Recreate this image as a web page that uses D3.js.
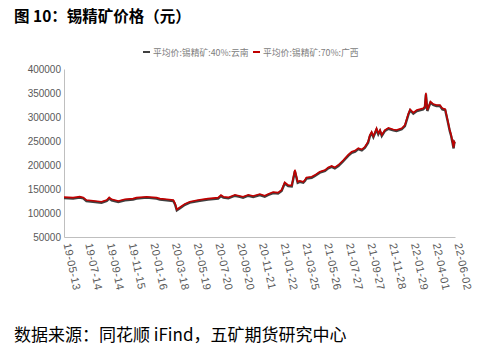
<!DOCTYPE html>
<head>
  <meta charset="utf-8">
  <title>锡精矿价格</title>
  <style>
    body { margin: 0; background: #fff; }
    svg { display: block; }
  </style>
</head>
<body>
  <script src="https://cdn.jsdelivr.net/npm/d3@7/dist/d3.min.js"></script>
  <script>

    // dates of the sampled points
    var dates = ["2019-05-13","2019-06-08","2019-06-27","2019-07-07","2019-07-16","2019-08-04","2019-08-28","2019-09-12","2019-09-19","2019-09-26",
      "2019-10-15","2019-11-03","2019-11-26","2019-12-06","2020-01-04","2020-02-01","2020-02-11","2020-03-01","2020-03-20","2020-03-25",
      "2020-03-30","2020-04-08","2020-04-22","2020-05-06","2020-05-30","2020-06-27","2020-07-26","2020-08-03","2020-08-10","2020-08-24",
      "2020-09-12","2020-09-26","2020-10-05","2020-10-20","2020-11-03","2020-11-22","2020-12-06","2020-12-16","2020-12-30","2021-01-13",
      "2021-01-23","2021-02-01","2021-02-11","2021-02-21","2021-03-02","2021-03-10","2021-03-16","2021-03-26","2021-03-31","2021-04-04",
      "2021-04-19","2021-04-28","2021-05-12","2021-05-27","2021-06-05","2021-06-15","2021-06-24","2021-07-04","2021-07-18","2021-08-01",
      "2021-08-11","2021-08-21","2021-08-30","2021-09-09","2021-09-18","2021-09-27","2021-10-02","2021-10-07","2021-10-12","2021-10-21",
      "2021-10-26","2021-10-31","2021-11-05","2021-11-14","2021-11-24","2021-12-08","2021-12-17","2022-01-01","2022-01-10","2022-01-20",
      "2022-01-25","2022-02-03","2022-02-13","2022-03-03","2022-03-08","2022-03-11","2022-03-15","2022-03-24","2022-04-01","2022-04-10",
      "2022-04-20","2022-04-27","2022-05-05","2022-05-12","2022-05-18","2022-05-22","2022-05-26","2022-05-29","2022-05-31","2022-06-02"];

    // 平均价:锡精矿:70%:广西
    var guangxi = [133000,132000,134000,132500,127000,125500,123500,127000,132500,128500,
      125000,128500,130000,132000,134000,132000,130000,128500,127000,120000,
      107500,112000,119000,123500,127000,130000,132000,137500,134000,132500,
      138000,135500,134000,138000,135500,139500,136000,139500,143500,142500,
      148000,164000,158000,157500,190000,165000,167000,165000,169000,174000,
      175500,179000,186000,189500,195000,198000,195000,200000,210000,221000,
      227500,230000,235000,232500,238000,248500,262500,269000,260000,276500,
      266000,273000,262500,273000,277500,274000,273000,276500,283000,307500,
      316000,309000,314500,318000,321500,350500,314500,332000,327000,325000,
      325000,318000,316500,293500,273000,262500,248000,236500,248500,246000];

    // 平均价:锡精矿:40%:云南
    var yunnan = [131000,130000,132000,130500,125000,123500,121500,125000,130000,126500,
      123000,126500,128000,130000,132000,130000,128000,126500,125000,118000,
      105500,110000,117000,121500,125000,128000,130000,135000,132000,130500,
      136000,133500,132000,136000,133500,137500,134000,137500,141500,140500,
      146000,161500,156000,155500,187000,163000,165000,163000,167000,172000,
      173500,177000,184000,187500,193000,196000,193000,198000,208000,219000,
      225500,228000,233000,230500,236000,246500,260000,266500,258000,274000,
      264000,271000,260500,271000,275500,272000,271000,274500,281000,305000,
      314000,307000,312500,316000,319500,347000,312500,330000,325000,323000,
      323000,316000,314500,291500,271000,260500,246000,234500,246500,244000];

    var yTicks = [50000,100000,150000,200000,250000,300000,350000,400000];
    var xTicks = ["2019-05-13","2019-07-14","2019-09-14","2019-11-15","2020-01-16","2020-03-18","2020-05-19","2020-07-20","2020-09-20",
      "2020-11-21","2021-01-22","2021-03-25","2021-05-26","2021-07-27","2021-09-27","2021-11-28","2022-01-29","2022-04-01","2022-06-02"];

    var seriesNames = ["平均价:锡精矿:40%:云南", "平均价:锡精矿:70%:广西"];
    var seriesColors = ["#404040", "#c00000"];

    var parseDate = d3.timeParse("%Y-%m-%d");
    var formatDate = d3.timeFormat("%y-%m-%d");

    var w = 486, h = 352;
    var plotLeft = 64, plotRight = 455, plotTop = 69, plotBottom = 237;

    var svg = d3.select("body").append("svg")
        .attr("width", w)
        .attr("height", h)
        .style("font-family", "'Liberation Sans', Arial, sans-serif");

    // scales
    var x = d3.scaleTime()
        .domain([parseDate("2019-05-13"), parseDate("2022-06-02")])
        .range([plotLeft, plotRight]);

    var y = d3.scaleLinear()
        .domain([50000, 400000])
        .range([plotBottom, plotTop]);

    // title
    svg.append("text")
        .attr("x", 14)
        .attr("y", 22)
        .style("font-family", "'Noto Sans CJK SC', sans-serif")
        .style("font-weight", "bold")
        .style("font-size", "15.5px")
        .attr("fill", "#000")
        .text("图 10：锡精矿价格（元）");

    // legend
    var legendX = [143, 253];
    seriesNames.forEach(function(name, i) {
      svg.append("line")
          .attr("x1", legendX[i]).attr("x2", legendX[i] + 7)
          .attr("y1", 52).attr("y2", 52)
          .attr("stroke", seriesColors[i])
          .attr("stroke-width", 2);
      svg.append("text")
          .attr("x", legendX[i] + 10)
          .attr("y", 55.5)
          .style("font-family", "'Noto Sans CJK SC', sans-serif")
          .style("font-size", "8.8px")
          .attr("fill", "#808080")
          .text(name);
    });

    // y axis
    var yAxis = d3.axisLeft(y)
        .tickValues(yTicks)
        .tickSize(0)
        .tickPadding(3)
        .tickFormat(d3.format("d"));

    var gy = svg.append("g")
        .attr("transform", "translate(" + plotLeft + ",0)")
        .call(yAxis);
    gy.select(".domain").attr("stroke", "#bfbfbf");
    gy.selectAll("text")
        .attr("fill", "#595959")
        .style("font-size", "10px");

    // x axis
    var xAxis = d3.axisBottom(x)
        .tickValues(xTicks.map(parseDate))
        .tickSize(0)
        .tickFormat(formatDate);

    var gx = svg.append("g")
        .attr("transform", "translate(0," + plotBottom + ")")
        .call(xAxis);
    gx.select(".domain").attr("stroke", "#bfbfbf");
    gx.selectAll("text")
        .attr("fill", "#595959")
        .style("font-size", "11px")
        .style("letter-spacing", "0.5px")
        .attr("text-anchor", "start")
        .attr("dy", null)
        .attr("y", null)
        .attr("transform", "translate(-1,7) rotate(78)");

    // lines
    var data = dates.map(function(d, i) {
      return { date: parseDate(d), yunnan: yunnan[i], guangxi: guangxi[i] };
    });

    var lineYunnan = d3.line()
        .x(function(d) { return x(d.date); })
        .y(function(d) { return y(d.yunnan); });

    var lineGuangxi = d3.line()
        .x(function(d) { return x(d.date); })
        .y(function(d) { return y(d.guangxi); });

    svg.append("path")
        .datum(data)
        .attr("d", lineYunnan)
        .attr("fill", "none")
        .attr("stroke", seriesColors[0])
        .attr("stroke-width", 2.4);

    svg.append("path")
        .datum(data)
        .attr("d", lineGuangxi)
        .attr("fill", "none")
        .attr("stroke", seriesColors[1])
        .attr("stroke-width", 1.6);

    // source
    svg.append("text")
        .attr("x", 14)
        .attr("y", 341)
        .style("font-family", "'Noto Sans CJK SC', sans-serif")
        .style("font-size", "17px")
        .attr("fill", "#000")
        .text("数据来源：同花顺 iFind，五矿期货研究中心");

  </script>
</body>
